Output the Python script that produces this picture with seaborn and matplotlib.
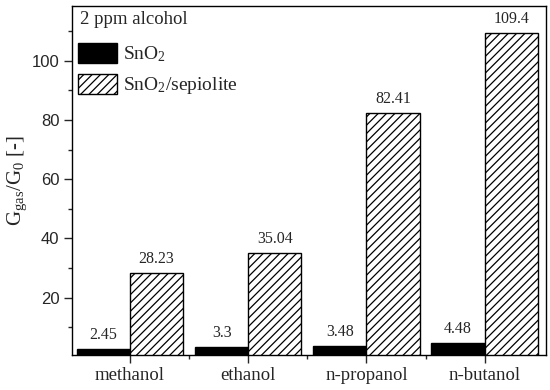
import pandas as pd
import matplotlib.pyplot as plt
import seaborn as sns
from matplotlib.patches import Patch

# values
alcohols = ['methanol', 'ethanol', 'n-propanol', 'n-butanol']
sno2 = [2.45, 3.3, 3.48, 4.48]
sno2_sep = [28.23, 35.04, 82.41, 109.4]
materials = ['SnO$_2$', 'SnO$_2$/sepiolite']

df = pd.DataFrame({
    'alcohol': alcohols * 2,
    'value': sno2 + sno2_sep,
    'material': [materials[0]] * 4 + [materials[1]] * 4,
})

sns.set_style('ticks')
plt.rcParams['font.family'] = ['Liberation Serif', 'DejaVu Serif']
plt.rcParams['mathtext.fontset'] = 'custom'
plt.rcParams['mathtext.rm'] = 'Liberation Serif'
plt.rcParams['mathtext.it'] = 'Liberation Serif:italic'
plt.rcParams['hatch.linewidth'] = 0.9

fig = plt.figure(figsize=(5.5, 3.9), dpi=100)
ax = fig.add_axes([0.131, 0.09, 0.862, 0.895])

sns.barplot(data=df, x='alcohol', y='value', hue='material',
            palette=['black', 'white'], edgecolor='black', linewidth=1.0,
            width=0.9, saturation=1, ax=ax, legend=False)

# hatch the sepiolite bars
for p in ax.containers[1]:
    p.set_hatch('////')

for cont, vals in zip(ax.containers, [sno2, sno2_sep]):
    ax.bar_label(cont, labels=[str(v) for v in vals], padding=4.5, fontsize=11.5)

ax.set_xlim(-0.49, 3.52)
ax.set_ylim(0.6, 118.6)
ax.set_yticks([20, 40, 60, 80, 100])
ax.set_yticks([10, 30, 50, 70, 90, 110], minor=True)
ax.set_xticks([0.5, 1.5, 2.5], minor=True)
for lab in ax.get_yticklabels():
    lab.set_fontfamily('Liberation Sans')
ax.tick_params(axis='y', labelsize=12, direction='out', length=5.5, width=1)
ax.tick_params(axis='y', which='minor', length=3, width=1)
ax.tick_params(axis='x', labelsize=13.5, direction='out', length=5.5, width=1)
ax.tick_params(axis='x', which='minor', length=3, width=1)

ax.set_xlabel('')
ax.set_ylabel('G$_{\\rm gas}$/G$_{\\rm 0}$ [-]', fontsize=15, labelpad=2)

for s in ax.spines.values():
    s.set_visible(True)
    s.set_linewidth(1.0)
    s.set_color('black')

ax.text(0.017, 0.985, '2 ppm alcohol', transform=ax.transAxes,
        ha='left', va='top', fontsize=13.5)

handles = [Patch(facecolor='black', edgecolor='black'),
           Patch(facecolor='white', edgecolor='black', hatch='////')]
ax.legend(handles, materials, loc='upper left', bbox_to_anchor=(0.005, 0.905),
          frameon=False, fontsize=14,
          handlelength=2.0, handleheight=1.2, handletextpad=0.3,
          labelspacing=0.5, borderaxespad=0.0, borderpad=0.2)

fig.savefig('out.png', dpi=100)
